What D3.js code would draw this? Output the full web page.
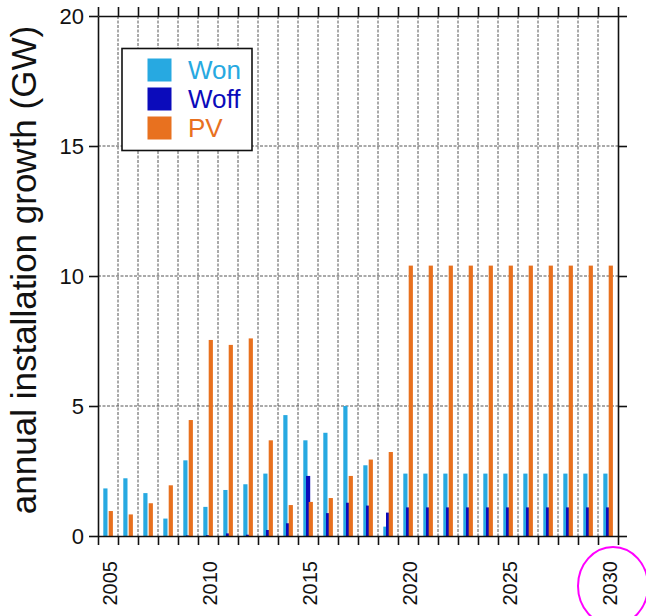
<!DOCTYPE html>
<html>
<head>
<meta charset="utf-8">
<script src="https://cdn.jsdelivr.net/npm/d3@7"></script>
<style>
  body { margin: 0; background: #fff; }
  svg { display: block; font-family: "Liberation Sans", Arial, sans-serif; }
</style>
</head>
<body>
<svg id="chart"></svg>
<script>
// years on the x axis
var years = d3.range(2005, 2031);
var series = ["Won", "Woff", "PV"];

// annual installation growth (GW)
var won = [1.83, 2.22, 1.65, 0.67, 2.91, 1.12, 1.77, 1.99, 2.40, 4.65, 3.68, 3.97, 5.0,
  2.72, 0.36, 2.4, 2.4, 2.4, 2.4, 2.4, 2.4, 2.4, 2.4, 2.4, 2.4, 2.4];
var woff = [0, 0, 0, 0, 0.02, 0.03, 0.1, 0.05, 0.23, 0.49, 2.31, 0.88, 1.28,
  1.17, 0.9, 1.1, 1.1, 1.1, 1.1, 1.1, 1.1, 1.1, 1.1, 1.1, 1.1, 1.1];
var pv = [0.96, 0.83, 1.26, 1.95, 4.46, 7.54, 7.35, 7.6, 3.68, 1.19, 1.31, 1.46, 2.31,
  2.94, 3.23, 10.4, 10.4, 10.4, 10.4, 10.4, 10.4, 10.4, 10.4, 10.4, 10.4, 10.4];
var yTicks = [0, 5, 10, 15, 20];
var xLabels = [2005, 2010, 2015, 2020, 2025, 2030];

var colors = { Won: "#27a9e1", Woff: "#0b0bbb", PV: "#e8711f" };

function draw() {
  var width = 646, height = 616;
  var plotL = 98, plotR = 618, plotT = 16, plotB = 536;

  var svg = d3.select("#chart").attr("width", width).attr("height", height);

  var x = d3.scaleBand().domain(years).range([plotL, plotR]).padding(0);
  var xEdge = d3.scaleLinear().domain([2005, 2031]).range([plotL, plotR]);
  var y = d3.scaleLinear().domain([0, 20]).range([plotB, plotT]);
  // position of each series inside a year cell
  var inner = d3.scalePoint().domain(series).range([5.3, 10.7]);
  var barW = 4.2;

  // grid
  var grid = svg.append("g").attr("class", "grid")
    .attr("stroke", "#555").attr("stroke-width", 1).attr("stroke-dasharray", "3,1.5");
  grid.selectAll("line.v")
    .data(d3.range(2006, 2031))
    .enter().append("line")
    .attr("class", "v")
    .attr("x1", function(d) { return xEdge(d); })
    .attr("x2", function(d) { return xEdge(d); })
    .attr("y1", plotT).attr("y2", plotB);
  grid.selectAll("line.h")
    .data([5, 10, 15])
    .enter().append("line")
    .attr("class", "h")
    .attr("x1", plotL).attr("x2", plotR)
    .attr("y1", function(d) { return y(d); })
    .attr("y2", function(d) { return y(d); });

  // bars
  var rows = years.map(function(yr, i) {
    return { year: yr, Won: won[i], Woff: woff[i], PV: pv[i] };
  });
  series.forEach(function(s) {
    svg.append("g").attr("class", "bars-" + s)
      .selectAll("rect")
      .data(rows)
      .enter().append("rect")
      .attr("x", function(d) { return x(d.year) + inner(s); })
      .attr("width", barW)
      .attr("y", function(d) { return y(d[s]); })
      .attr("height", function(d) { return y(0) - y(d[s]); })
      .attr("fill", colors[s]);
  });

  // axes (frame with outward ticks)
  var edgeTicks = d3.range(2005, 2032);
  function styleAxis(g) {
    g.select(".domain").attr("stroke", "#111").attr("stroke-width", 1.6);
    g.selectAll(".tick line").attr("stroke", "#111").attr("stroke-width", 1.6);
  }
  function noText(g) { g.selectAll(".tick text").remove(); }
  svg.append("g").attr("transform", "translate(0," + plotB + ")")
    .call(d3.axisBottom(xEdge).tickValues(edgeTicks).tickSizeInner(9).tickSizeOuter(0))
    .call(styleAxis).call(noText);
  svg.append("g").attr("transform", "translate(0," + plotT + ")")
    .call(d3.axisTop(xEdge).tickValues(edgeTicks).tickSizeInner(9).tickSizeOuter(0))
    .call(styleAxis).call(noText);
  svg.append("g").attr("transform", "translate(" + plotR + ",0)")
    .call(d3.axisRight(y).tickValues(yTicks).tickSizeInner(9).tickSizeOuter(0))
    .call(styleAxis).call(noText);
  var yAxis = svg.append("g").attr("transform", "translate(" + plotL + ",0)")
    .call(d3.axisLeft(y).tickValues(yTicks).tickSizeInner(9).tickSizeOuter(0))
    .call(styleAxis);
  yAxis.selectAll(".tick text")
    .attr("x", -14)
    .attr("font-size", 22)
    .attr("font-family", "Liberation Sans, Arial, sans-serif")
    .attr("fill", "#111");

  // year labels, rotated
  svg.append("g").selectAll("text")
    .data(xLabels)
    .enter().append("text")
    .attr("transform", function(d) {
      return "translate(" + (x(d) + x.bandwidth() / 2 + 1.5) + "," + 561 + ") rotate(-90)";
    })
    .attr("dy", "0.35em")
    .attr("text-anchor", "end")
    .attr("font-size", 20)
    .attr("fill", "#111")
    .text(function(d) { return d; });

  // y title
  svg.append("text")
    .attr("transform", "translate(36," + ((plotT + plotB) / 2 - 6) + ") rotate(-90)")
    .attr("text-anchor", "middle")
    .attr("font-size", 35)
    .attr("fill", "#111")
    .text("annual installation growth (GW)");

  // legend
  var legend = svg.append("g").attr("transform", "translate(122,48.5)");
  legend.append("rect")
    .attr("width", 130).attr("height", 102)
    .attr("fill", "#fff").attr("stroke", "#111").attr("stroke-width", 1.6);
  var item = legend.selectAll("g.item")
    .data(series)
    .enter().append("g")
    .attr("class", "item")
    .attr("transform", function(d, i) { return "translate(0," + (10 + i * 29) + ")"; });
  item.append("rect")
    .attr("x", 25.5).attr("width", 24).attr("height", 23)
    .attr("fill", function(d) { return colors[d]; });
  item.append("text")
    .attr("x", 66).attr("y", 11.5).attr("dy", "0.35em")
    .attr("font-size", 26)
    .attr("fill", function(d) { return colors[d]; })
    .text(function(d) { return d; });

  // highlight around 2030
  svg.append("ellipse")
    .attr("cx", x(2030) + x.bandwidth() / 2 + 5).attr("cy", 586)
    .attr("rx", 35).attr("ry", 39)
    .attr("fill", "none").attr("stroke", "#ff00ff").attr("stroke-width", 2);
}

draw();
</script>
</body>
</html>
